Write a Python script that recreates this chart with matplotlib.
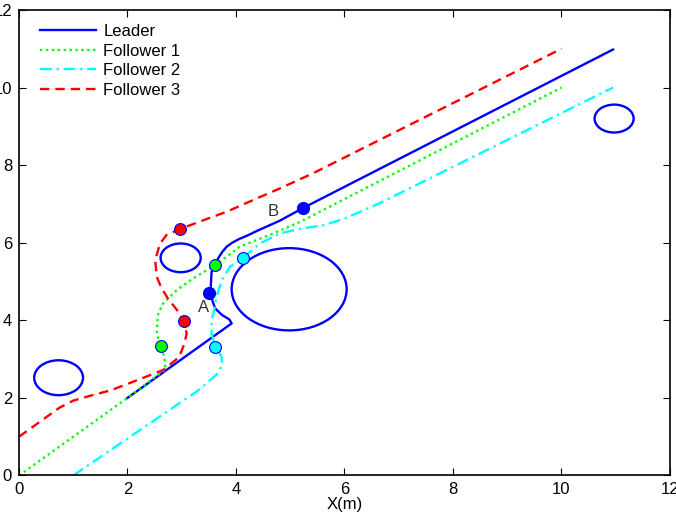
import matplotlib
matplotlib.use("Agg")
import matplotlib.pyplot as plt
from matplotlib.patches import Circle

plt.rcParams['font.family'] = ['Liberation Sans', 'DejaVu Sans']

# trajectories (m)
leader_x = [2.0, 3.92, 3.88, 3.74, 3.62, 3.57, 3.53, 3.54, 3.55, 3.62, 3.68, 3.75, 3.83, 3.93, 4.05, 4.2, 4.38, 4.81, 5.23, 10.95]
leader_y = [2.0, 3.92, 4.02, 4.14, 4.30, 4.48, 4.70, 5.0, 5.25, 5.45, 5.62, 5.77, 5.9, 6.0, 6.09, 6.18, 6.3, 6.57, 6.89, 10.98]

f1_x = [0.0, 2.0, 2.7, 2.68, 2.61, 2.54, 2.55, 2.57, 2.66, 2.91, 3.21, 3.52, 3.61, 3.83, 4.07, 4.4, 4.69, 5.2, 10.0]
f1_y = [0.0, 2.0, 2.74, 3.05, 3.34, 3.66, 3.95, 4.18, 4.44, 4.78, 5.08, 5.34, 5.43, 5.64, 5.9, 6.08, 6.24, 6.55, 10.0]

f2_x = [1.0, 3.31, 3.64, 3.75, 3.73, 3.61, 3.55, 3.55, 3.59, 3.64, 3.74, 3.89, 4.12, 4.44, 4.81, 5.18, 5.61, 6.0, 6.65, 10.95]
f2_y = [0.0, 2.2, 2.6, 2.85, 3.08, 3.32, 3.66, 4.01, 4.2, 4.61, 5.04, 5.38, 5.6, 5.98, 6.24, 6.36, 6.45, 6.62, 7.02, 10.0]

f3_x = [0.0, 0.4, 0.75, 1.0, 1.3, 1.7, 2.11, 2.66, 2.95, 3.05, 3.09, 3.04, 2.91, 2.75, 2.62, 2.54, 2.51, 2.6, 2.72, 2.96, 3.4, 3.83, 4.38, 4.81, 5.42, 10.0]
f3_y = [1.0, 1.4, 1.75, 1.93, 2.05, 2.2, 2.42, 2.72, 3.05, 3.4, 3.66, 3.99, 4.27, 4.55, 4.85, 5.12, 5.55, 5.98, 6.2, 6.35, 6.58, 6.8, 7.14, 7.4, 7.79, 11.0]

# marked points
leader_pts_x = [3.51, 5.23]
leader_pts_y = [4.70, 6.89]
f1_pts_x = [2.61, 3.61]
f1_pts_y = [3.34, 5.43]
f2_pts_x = [3.61, 4.12]
f2_pts_y = [3.32, 5.60]
f3_pts_x = [3.04, 2.96]
f3_pts_y = [3.99, 6.35]

# obstacles: centre x, centre y, radius
obs_x = [0.73, 2.98, 4.98, 10.97]
obs_y = [2.52, 5.61, 4.80, 9.20]
obs_r = [0.45, 0.37, 1.06, 0.36]

fig = plt.figure(figsize=(6.76, 5.15), dpi=100)
ax = fig.add_axes([0.0281, 0.0767, 0.963, 0.904])

ax.plot(leader_x, leader_y, color='b', lw=1.7, label='Leader')
ax.plot(f1_x, f1_y, color=(0, 1, 0), lw=1.7, ls=(0, (1, 1.5)), label='Follower 1')
ax.plot(f2_x, f2_y, color=(0, 1, 1), lw=1.7, ls=(0, (5, 2, 1, 2)), label='Follower 2')
ax.plot(f3_x, f3_y, color='r', lw=1.7, ls=(0, (4, 2.5)), label='Follower 3')

for cx, cy, r in zip(obs_x, obs_y, obs_r):
    ax.add_patch(Circle((cx, cy), r, fill=False, ec='b', lw=1.7))

ms = 8.5
ax.plot(leader_pts_x, leader_pts_y, 'o', ms=ms, mfc='b', mec='b')
ax.plot(f1_pts_x, f1_pts_y, 'o', ms=ms, mfc=(0, 1, 0), mec='b', mew=0.8)
ax.plot(f2_pts_x, f2_pts_y, 'o', ms=ms, mfc=(0, 1, 1), mec='b', mew=0.8)
ax.plot(f3_pts_x, f3_pts_y, 'o', ms=ms, mfc='r', mec='b', mew=0.8)

ax.text(3.4, 4.33, 'A', fontsize=12, color='#333333', ha='center', va='center')
ax.text(4.69, 6.8, 'B', fontsize=12, color='#333333', ha='center', va='center')

ax.set_xlim(0, 12)
ax.set_ylim(0, 12)
ax.set_xticks(range(0, 13, 2))
ax.set_yticks(range(0, 13, 2))
ax.tick_params(direction='in', top=True, right=True, length=5, labelsize=12, pad=5)
for s in ax.spines.values():
    s.set_linewidth(1.2)
ax.set_xlabel('X(m)', fontsize=12, labelpad=0)

ax.legend(loc='upper left', bbox_to_anchor=(0.032, 0.970), frameon=False, fontsize=12,
          handlelength=3.4, handletextpad=0.4, labelspacing=0.28, borderpad=0, borderaxespad=0)

fig.savefig('out.png', dpi=100)
